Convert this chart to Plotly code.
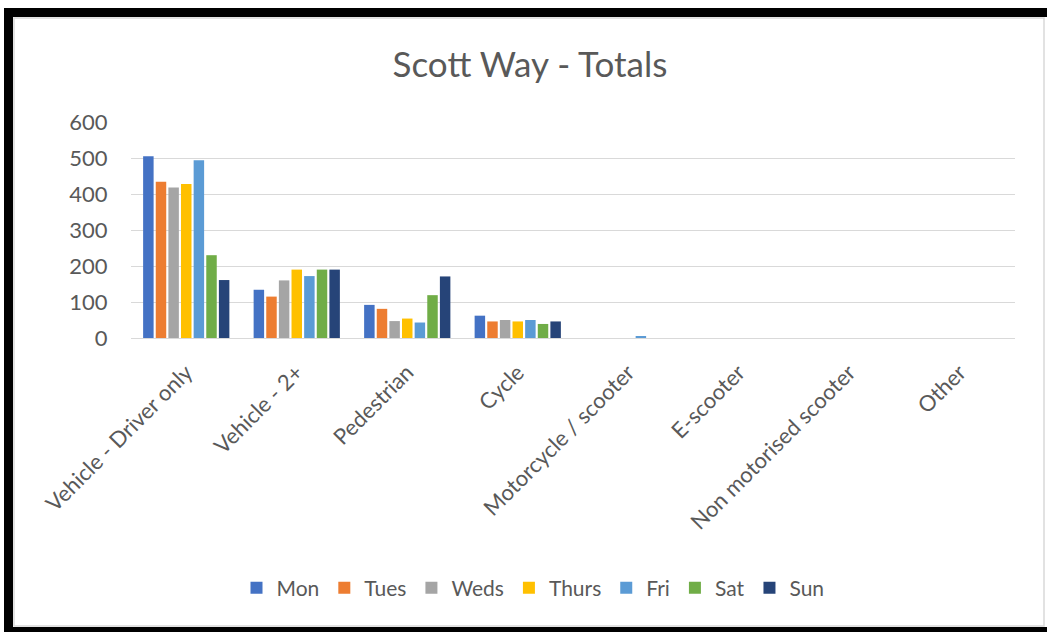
import plotly.graph_objects as go

# Categories and daily totals
categories = ["Vehicle - Driver only", "Vehicle - 2+", "Pedestrian", "Cycle",
              "Motorcycle / scooter", "E-scooter", "Non motorised scooter", "Other"]
mon = [505, 134, 92, 62, 0, 0, 0, 0]
tues = [434, 115, 81, 46, 0, 0, 0, 0]
weds = [418, 160, 47, 50, 0, 0, 0, 0]
thurs = [428, 190, 54, 46, 0, 0, 0, 0]
fri = [494, 172, 43, 50, 5, 0, 0, 0]
sat = [230, 190, 119, 39, 0, 0, 0, 0]
sun = [161, 190, 171, 46, 0, 0, 0, 0]

days = ["Mon", "Tues", "Weds", "Thurs", "Fri", "Sat", "Sun"]
series = [mon, tues, weds, thurs, fri, sat, sun]
colors = ["#4472C4", "#ED7D31", "#A5A5A5", "#FFC000", "#5B9BD5", "#70AD47", "#264478"]
y_ticks = [0, 100, 200, 300, 400, 500, 600]

W, H = 1047, 632
L, R, T, B = 131, 32, 122, 294
FONT = "Lato"
TXT = "#595959"


def px_x(p):
    return (p - L) / (W - L - R)


def px_y(p):
    return (H - B - p) / (H - T - B)


fig = go.Figure()
for name, vals, col in zip(days, series, colors):
    fig.add_trace(go.Bar(x=categories, y=vals, name=name, marker_color=col,
                         marker_line_width=0))

# Frame around the chart
shapes = [
    dict(type="rect", xref="paper", yref="paper", x0=px_x(4), x1=px_x(1050),
         y0=px_y(8), y1=px_y(17), fillcolor="black", line_width=0),
    dict(type="rect", xref="paper", yref="paper", x0=px_x(4), x1=px_x(13),
         y0=px_y(8), y1=px_y(635), fillcolor="black", line_width=0),
    dict(type="rect", xref="paper", yref="paper", x0=px_x(4), x1=px_x(1050),
         y0=px_y(627), y1=px_y(635), fillcolor="black", line_width=0),
    dict(type="rect", xref="paper", yref="paper", x0=px_x(14), x1=px_x(1044),
         y0=px_y(18), y1=px_y(626), line=dict(color="#d9d9d9", width=1.5)),
]

fig.update_layout(
    width=W, height=H,
    margin=dict(l=L, r=R, t=T, b=B),
    paper_bgcolor="white", plot_bgcolor="white",
    font=dict(family=FONT, color=TXT, size=18),
    title=dict(text="Scott Way - Totals", x=530 / W, xref="container", xanchor="center",
               y=1 - 65 / H, yref="container", yanchor="middle",
               font=dict(family=FONT, size=35, color=TXT)),
    barmode="group", bargap=0.2, bargroupgap=0.17,
    showlegend=True,
    legend=dict(orientation="h", x=px_x(533), xanchor="center", y=px_y(588), yanchor="middle",
                font=dict(family=FONT, size=21, color=TXT), itemwidth=30, traceorder="normal"),
    shapes=shapes,
)
fig.update_xaxes(tickangle=-45, showgrid=False, showline=False,
                 ticks="outside", ticklen=12, tickcolor="rgba(0,0,0,0)",
                 tickfont=dict(family=FONT, size=22, color=TXT))
fig.update_yaxes(range=[0, 600], tickvals=y_ticks, showgrid=True, gridcolor="#d9d9d9",
                 gridwidth=1.3, zeroline=True, zerolinecolor="#d9d9d9", zerolinewidth=1.3,
                 showline=False, ticks="outside", ticklen=18, tickcolor="rgba(0,0,0,0)",
                 tickfont=dict(family=FONT, size=22, color=TXT))

fig.write_html("out.html")
